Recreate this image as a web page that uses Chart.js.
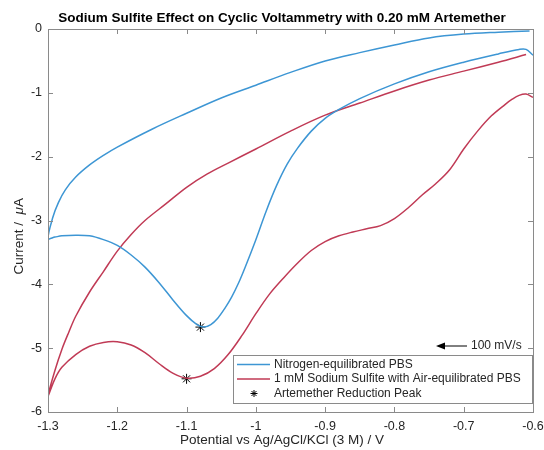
<!DOCTYPE html>
<html>
<head>
<meta charset="utf-8">
<script src="https://cdn.jsdelivr.net/npm/chart.js@4/dist/chart.umd.min.js"></script>
<style>
  html, body { margin: 0; padding: 0; background: #fff; }
</style>
</head>
<body>
<canvas id="cv" width="544" height="450"></canvas>
<script>
// Nitrogen-equilibrated PBS (upper branch right->left, then lower branch left->right)
const n2Potential = [-0.605, -0.65, -0.7, -0.75, -0.8, -0.85, -0.9, -0.95, -1.0, -1.05, -1.1, -1.15, -1.2, -1.22, -1.24, -1.26, -1.275, -1.285, -1.293, -1.3,
  -1.29, -1.28, -1.26, -1.24, -1.22, -1.2, -1.18, -1.16, -1.14, -1.12, -1.1, -1.085, -1.075, -1.065, -1.055, -1.045, -1.035, -1.025, -1.015, -1.0, -0.985, -0.97, -0.955, -0.94, -0.92, -0.9, -0.88, -0.85, -0.8, -0.75, -0.7, -0.65, -0.62, -0.61, -0.6];
const n2Current = [-0.03, -0.05, -0.08, -0.14, -0.25, -0.37, -0.5, -0.68, -0.88, -1.08, -1.32, -1.57, -1.85, -1.98, -2.13, -2.32, -2.52, -2.72, -2.95, -3.28,
  -3.26, -3.24, -3.23, -3.24, -3.3, -3.39, -3.54, -3.73, -3.97, -4.24, -4.49, -4.63, -4.67, -4.63, -4.53, -4.38, -4.2, -3.98, -3.72, -3.3, -2.85, -2.45, -2.12, -1.87, -1.6, -1.4, -1.26, -1.09, -0.86, -0.67, -0.52, -0.39, -0.32, -0.32, -0.41];

// 1 mM Sodium Sulfite with Air-equilibrated PBS
const so3Potential = [-0.61, -0.65, -0.7, -0.75, -0.8, -0.85, -0.9, -0.95, -1.0, -1.04, -1.07, -1.1, -1.13, -1.16, -1.18, -1.2, -1.22, -1.24, -1.26, -1.27, -1.28, -1.29, -1.3,
  -1.29, -1.28, -1.26, -1.24, -1.22, -1.2, -1.18, -1.16, -1.14, -1.12, -1.1, -1.08, -1.06, -1.04, -1.02, -1.0, -0.98, -0.96, -0.94, -0.92, -0.9, -0.88, -0.86, -0.84, -0.82, -0.8, -0.78, -0.76, -0.74, -0.72, -0.7, -0.68, -0.66, -0.64, -0.63, -0.62, -0.61, -0.6];
const so3Current = [-0.4, -0.52, -0.66, -0.8, -0.97, -1.16, -1.35, -1.6, -1.88, -2.1, -2.27, -2.48, -2.74, -3.0, -3.22, -3.48, -3.8, -4.12, -4.5, -4.75, -5.02, -5.35, -5.75,
  -5.48, -5.3, -5.1, -4.97, -4.91, -4.9, -4.95, -5.07, -5.24, -5.39, -5.47, -5.44, -5.32, -5.1, -4.8, -4.46, -4.15, -3.9, -3.67, -3.47, -3.33, -3.24, -3.18, -3.13, -3.08, -2.97, -2.8, -2.6, -2.42, -2.2, -1.88, -1.6, -1.36, -1.18, -1.1, -1.04, -1.02, -1.07];

// Artemether reduction peaks
const peakPotential = [-1.08, -1.1];
const peakCurrent = [-4.67, -5.48];

const xTicks = [-1.3, -1.2, -1.1, -1.0, -0.9, -0.8, -0.7, -0.6];
const yTicks = [0, -1, -2, -3, -4, -5, -6];

const seriesNames = ['Nitrogen-equilibrated PBS', '1 mM Sodium Sulfite with Air-equilibrated PBS', 'Artemether Reduction Peak'];
const titleText = 'Sodium Sulfite Effect on Cyclic Voltammetry with 0.20 mM Artemether';
const xTitle = 'Potential vs Ag/AgCl/KCl (3 M) / V';
const scanLabel = '100 mV/s';

const BLUE = '#3d96d4';
const RED = '#c03a55';
const INK = '#262626';
const FONT = '"Liberation Sans", Arial, Helvetica, sans-serif';

const toPts = (xs, ys) => xs.map((x, i) => ({ x, y: ys[i] }));

const decor = {
  id: 'decor',
  afterDraw(chart) {
    const { ctx, chartArea: a, scales } = chart;
    const sx = scales.x, sy = scales.y;
    ctx.save();

    // box + inward ticks on all sides
    ctx.strokeStyle = '#8a8a8a';
    ctx.lineWidth = 1;
    ctx.strokeRect(Math.round(a.left) + 0.5, Math.round(a.top) + 0.5, Math.round(a.right - a.left), Math.round(a.bottom - a.top));
    ctx.beginPath();
    xTicks.forEach(v => {
      const px = Math.round(sx.getPixelForValue(v)) + 0.5;
      ctx.moveTo(px, a.bottom); ctx.lineTo(px, a.bottom - 5);
      ctx.moveTo(px, a.top); ctx.lineTo(px, a.top + 5);
    });
    yTicks.forEach(v => {
      const py = Math.round(sy.getPixelForValue(v)) + 0.5;
      ctx.moveTo(a.left, py); ctx.lineTo(a.left + 5, py);
      ctx.moveTo(a.right, py); ctx.lineTo(a.right - 5, py);
    });
    ctx.stroke();

    // title
    ctx.fillStyle = '#000';
    ctx.font = 'bold 13.5px ' + FONT;
    ctx.textAlign = 'center';
    ctx.textBaseline = 'middle';
    ctx.fillText(titleText, 282, 18);

    // axis titles
    ctx.fillStyle = INK;
    ctx.font = '13.5px ' + FONT;
    ctx.fillText(xTitle, 282, 440);
    ctx.save();
    ctx.translate(19, (a.top + a.bottom) / 2);
    ctx.rotate(-Math.PI / 2);
    ctx.textAlign = 'right';
    ctx.fillText('Current /  ', 6, 0);
    ctx.textAlign = 'left';
    ctx.font = 'italic 13.5px ' + FONT;
    ctx.fillText('\u03bc', 6, 0);
    const mw = ctx.measureText('\u03bc').width;
    ctx.font = '13.5px ' + FONT;
    ctx.fillText('A', 6 + mw, 0);
    ctx.restore();

    // scan-rate arrow
    const ay = 346;
    ctx.strokeStyle = '#000';
    ctx.fillStyle = '#000';
    ctx.lineWidth = 1;
    ctx.beginPath(); ctx.moveTo(442, ay); ctx.lineTo(467, ay); ctx.stroke();
    ctx.beginPath(); ctx.moveTo(436, ay); ctx.lineTo(445, ay - 3.5); ctx.lineTo(445, ay + 3.5); ctx.closePath(); ctx.fill();
    ctx.fillStyle = INK;
    ctx.font = '12px ' + FONT;
    ctx.textAlign = 'left';
    ctx.fillText(scanLabel, 471, ay);

    // legend box
    const lx = 233, ly = 355, lw = 299, lh = 48;
    ctx.fillStyle = '#fff';
    ctx.fillRect(lx, ly, lw, lh);
    ctx.strokeStyle = '#8a8a8a';
    ctx.strokeRect(lx + 0.5, ly + 0.5, lw, lh);
    const rows = [364.5, 379, 393.5];
    ctx.lineWidth = 1.5;
    ctx.strokeStyle = BLUE;
    ctx.beginPath(); ctx.moveTo(237, rows[0]); ctx.lineTo(270, rows[0]); ctx.stroke();
    ctx.strokeStyle = RED;
    ctx.beginPath(); ctx.moveTo(237, rows[1]); ctx.lineTo(270, rows[1]); ctx.stroke();
    ctx.strokeStyle = '#000';
    ctx.lineWidth = 1;
    const cx = 254, cy = rows[2], r = 3.5;
    ctx.beginPath();
    for (let k = 0; k < 4; k++) {
      const t = k * Math.PI / 4;
      ctx.moveTo(cx - r * Math.cos(t), cy - r * Math.sin(t));
      ctx.lineTo(cx + r * Math.cos(t), cy + r * Math.sin(t));
    }
    ctx.stroke();
    ctx.fillStyle = INK;
    ctx.font = '12px ' + FONT;
    seriesNames.forEach((s, i) => ctx.fillText(s, 274, rows[i]));

    ctx.restore();
  }
};

new Chart(document.getElementById('cv'), {
  type: 'scatter',
  data: {
    datasets: [
      {
        label: seriesNames[0],
        data: toPts(n2Potential, n2Current),
        showLine: true,
        borderColor: BLUE,
        backgroundColor: BLUE,
        borderWidth: 1.5,
        pointRadius: 0,
        tension: 0.35,
      },
      {
        label: seriesNames[1],
        data: toPts(so3Potential, so3Current),
        showLine: true,
        borderColor: RED,
        backgroundColor: RED,
        borderWidth: 1.5,
        pointRadius: 0,
        tension: 0.35,
      },
      {
        label: seriesNames[2],
        data: toPts(peakPotential, peakCurrent),
        showLine: false,
        pointStyle: 'star',
        pointRadius: 5,
        borderColor: '#000',
        backgroundColor: '#000',
        borderWidth: 1,
      },
    ],
  },
  options: {
    responsive: false,
    animation: false,
    devicePixelRatio: 1,
    layout: { padding: { top: 29, right: 11, left: 0, bottom: 0 } },
    plugins: {
      legend: { display: false },
      title: { display: false },
      tooltip: { enabled: false },
    },
    scales: {
      x: {
        type: 'linear',
        min: -1.3,
        max: -0.6,
        afterFit: s => { s.height = 38; s.paddingLeft = 0; s.paddingRight = 0; },
        afterBuildTicks: s => { s.ticks = xTicks.map(v => ({ value: v })); },
        grid: { display: false, drawTicks: false },
        border: { display: false },
        ticks: {
          padding: 7,
          color: INK,
          font: { family: FONT, size: 12.5 },
          maxRotation: 0,
          callback: v => String(Math.round(v * 10) / 10),
        },
      },
      y: {
        type: 'linear',
        min: -6,
        max: 0,
        afterFit: s => { s.width = 48; s.paddingTop = 0; s.paddingBottom = 0; },
        afterBuildTicks: s => { s.ticks = yTicks.map(v => ({ value: v })); },
        grid: { display: false, drawTicks: false },
        border: { display: false },
        ticks: {
          padding: 6,
          color: INK,
          font: { family: FONT, size: 12.5 },
          callback: v => String(v),
        },
      },
    },
  },
  plugins: [decor],
});
</script>
</body>
</html>
